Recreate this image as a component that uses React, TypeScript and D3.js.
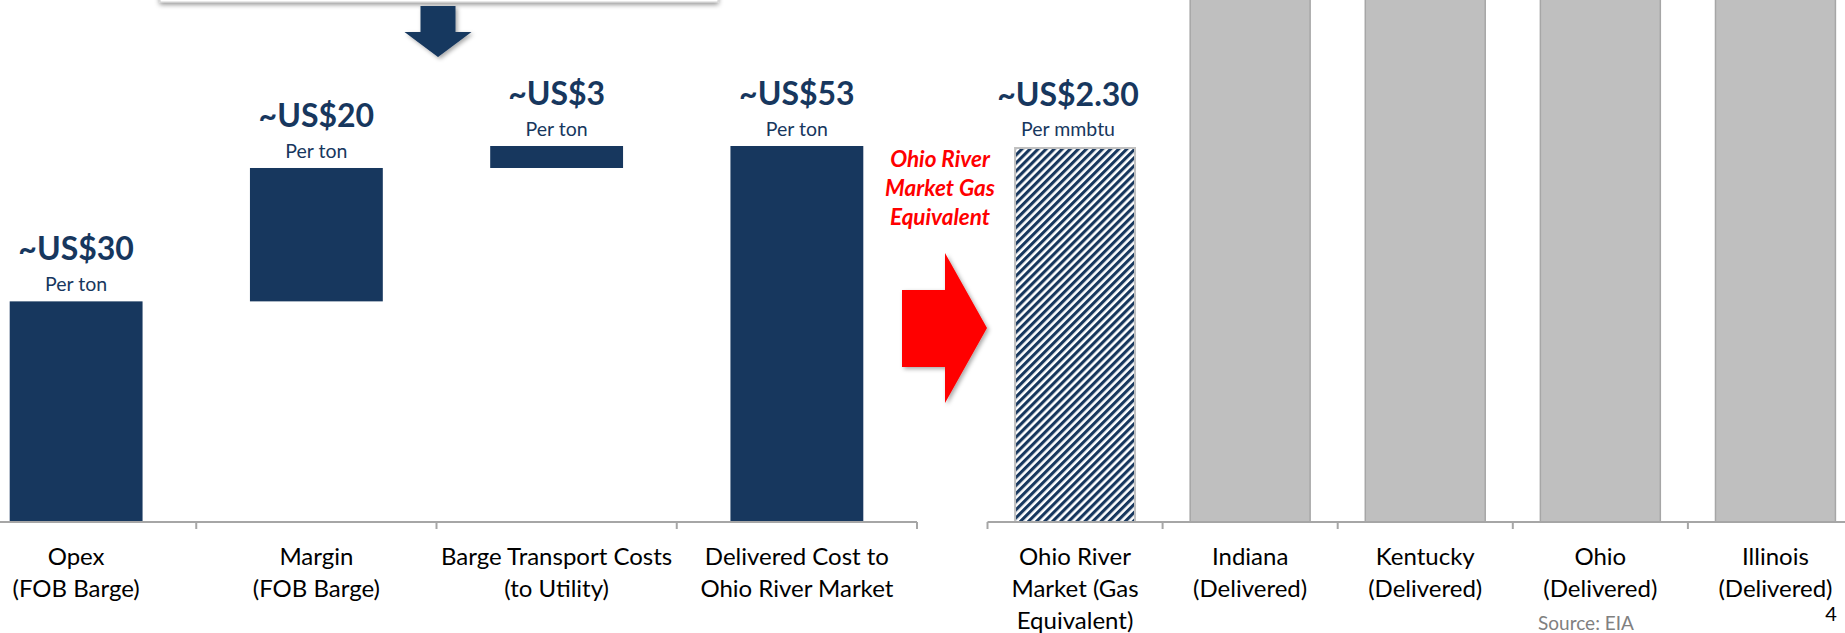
import React from "react";
import * as d3 from "d3";

// ---------- DATA ----------
const leftCategories: string[][] = [
  ["Opex", "(FOB Barge)"],
  ["Margin", "(FOB Barge)"],
  ["Barge Transport Costs", "(to Utility)"],
  ["Delivered Cost to", "Ohio River Market"],
];
const leftValues: number[] = [31.1, 18.8, 3.1, 53];
const leftIsTotal: boolean[] = [false, false, false, true];
const leftValueLabels: string[] = ["~US$30", "~US$20", "~US$3", "~US$53"];
const leftUnit = "Per ton";

const rightCategories: string[][] = [
  ["Ohio River", "Market (Gas", "Equivalent)"],
  ["Indiana", "(Delivered)"],
  ["Kentucky", "(Delivered)"],
  ["Ohio", "(Delivered)"],
  ["Illinois", "(Delivered)"],
];
// gray bars run off the top of the frame; values estimated above visible range
const rightValues: number[] = [2.3, 3.5, 3.5, 3.5, 3.5];
const rightValueLabel = "~US$2.30";
const rightUnit = "Per mmbtu";
const calloutLines: string[] = ["Ohio River", "Market Gas", "Equivalent"];
const sourceText = "Source: EIA";
const pageNumber = "4";

// ---------- STYLE ----------
const W = 1845;
const H = 633;
const NAVY = "#17375E";
const GRAY = "#BFBFBF";
const AXIS = "#A6A6A6";
const FONT = "Lato, 'Open Sans', sans-serif";

export default function App() {
  const baseY = 522;

  // left waterfall
  const xL = d3
    .scaleBand<number>()
    .domain(d3.range(leftCategories.length))
    .range([-44, 917])
    .padding(0);
  const yL = d3.scaleLinear().domain([0, 53]).range([baseY, 146]);
  const barWL = xL.bandwidth() * 0.553;
  let running = 0;
  const leftBars = leftValues.map((v, i) => {
    const start = leftIsTotal[i] ? 0 : running;
    const end = start + v;
    if (!leftIsTotal[i]) running = end;
    return { i, start, end };
  });

  // right chart
  const xR = d3
    .scaleBand<number>()
    .domain(d3.range(rightCategories.length))
    .range([987.5, 987.5 + 175.1 * rightCategories.length])
    .padding(0);
  const yR = d3.scaleLinear().domain([0, 2.3]).range([baseY, 148]);
  const barWR = xR.bandwidth() * 0.685;

  const tickLen = 7;
  const lblLine = 32;
  const lblFirst = baseY + 43;

  // callout arrow geometry (red block arrow)
  const ra = { x0: 902, x1: 945, x2: 987, yb0: 290, yb1: 367, yh0: 253, yh1: 403 };
  const ym = (ra.yh0 + ra.yh1) / 2;
  const redArrow = d3.path();
  redArrow.moveTo(ra.x0, ra.yb0);
  redArrow.lineTo(ra.x1, ra.yb0);
  redArrow.lineTo(ra.x1, ra.yh0);
  redArrow.lineTo(ra.x2, ym);
  redArrow.lineTo(ra.x1, ra.yh1);
  redArrow.lineTo(ra.x1, ra.yb1);
  redArrow.lineTo(ra.x0, ra.yb1);
  redArrow.closePath();

  // navy down arrow
  const da = { cx: 438, sw: 17.5, hw: 33.5, y0: 6, y1: 32, y2: 57 };
  const downArrow = d3.path();
  downArrow.moveTo(da.cx - da.sw, da.y0);
  downArrow.lineTo(da.cx + da.sw, da.y0);
  downArrow.lineTo(da.cx + da.sw, da.y1);
  downArrow.lineTo(da.cx + da.hw, da.y1);
  downArrow.lineTo(da.cx, da.y2);
  downArrow.lineTo(da.cx - da.hw, da.y1);
  downArrow.lineTo(da.cx - da.sw, da.y1);
  downArrow.closePath();

  return (
    <svg
      width={W}
      height={H}
      style={{ position: "fixed", left: 0, top: 0, background: "#fff" }}
      fontFamily={FONT}
    >
      <defs>
        <filter id="shadow" x="-20%" y="-20%" width="150%" height="150%">
          <feDropShadow dx="2" dy="2" stdDeviation="2" floodColor="#000" floodOpacity="0.35" />
        </filter>
        <filter id="boxshadow" x="-5%" y="-50%" width="110%" height="300%">
          <feDropShadow dx="0" dy="2" stdDeviation="2.5" floodColor="#000" floodOpacity="0.45" />
        </filter>
        <pattern
          id="hatch"
          patternUnits="userSpaceOnUse"
          width={5.7}
          height={5.7}
          patternTransform="rotate(45)"
        >
          <rect x={0} y={0} width={5.7} height={5.7} fill="#fff" />
          <rect x={0} y={0} width={3.1} height={5.7} fill={NAVY} />
        </pattern>
      </defs>
      <rect x={0} y={0} width={W} height={H} fill="#fff" />

      {/* top box and navy arrow */}
      <rect x={160} y={-40} width={558} height={42} fill="#fff" stroke="#d0d0d0" strokeWidth={1} filter="url(#boxshadow)" />
      <path d={downArrow.toString()} fill={NAVY} filter="url(#shadow)" />

      {/* left waterfall bars */}
      {leftBars.map((b) => (
        <rect
          key={"lb" + b.i}
          x={(xL(b.i) as number) + (xL.bandwidth() - barWL) / 2}
          y={yL(b.end)}
          width={barWL}
          height={yL(b.start) - yL(b.end)}
          fill={NAVY}
        />
      ))}
      {leftBars.map((b) => {
        const cx = (xL(b.i) as number) + xL.bandwidth() / 2;
        const top = yL(b.end);
        return (
          <g key={"ll" + b.i} fill={NAVY} textAnchor="middle">
            <text x={cx} y={top - 41} fontSize={32} fontWeight={700}>
              {leftValueLabels[b.i]}
            </text>
            <text x={cx} y={top - 10} fontSize={19.5}>
              {leftUnit}
            </text>
          </g>
        );
      })}

      {/* left axis */}
      <line x1={0} x2={xL.range()[1]} y1={baseY} y2={baseY} stroke={AXIS} strokeWidth={2} />
      {leftCategories.map((_, i) => {
        const bx = (xL(i) as number) + xL.bandwidth();
        return <line key={"lt" + i} x1={bx} x2={bx} y1={baseY} y2={baseY + tickLen} stroke={AXIS} strokeWidth={2} />;
      })}
      {leftCategories.map((lines, i) => {
        const cx = (xL(i) as number) + xL.bandwidth() / 2;
        return (
          <text key={"lx" + i} x={cx} y={lblFirst} textAnchor="middle" fontSize={24} fill="#000">
            {lines.map((t, k) => (
              <tspan key={k} x={cx} y={lblFirst + k * lblLine}>
                {t}
              </tspan>
            ))}
          </text>
        );
      })}

      {/* red callout */}
      <path d={redArrow.toString()} fill="#FF0000" filter="url(#shadow)" />
      <g fill="#FF0000" fontWeight={700} fontStyle="italic" fontSize={22.5} textAnchor="middle">
        {calloutLines.map((t, k) => (
          <text key={"co" + k} x={940} y={167 + k * 29}>
            {t}
          </text>
        ))}
      </g>

      {/* right bars */}
      {rightValues.map((v, i) => (
        <rect
          key={"rb" + i}
          x={(xR(i) as number) + (xR.bandwidth() - barWR) / 2}
          y={yR(v)}
          width={barWR}
          height={yR(0) - yR(v)}
          fill={i === 0 ? "url(#hatch)" : GRAY}
          stroke={i === 0 ? "#C0C0C0" : "#A6A6A6"}
          strokeWidth={i === 0 ? 2 : 1.5}
        />
      ))}
      {(() => {
        const cx = (xR(0) as number) + xR.bandwidth() / 2 - 7;
        const top = yR(rightValues[0]);
        return (
          <g fill={NAVY} textAnchor="middle">
            <text x={cx} y={top - 42} fontSize={32} fontWeight={700}>
              {rightValueLabel}
            </text>
            <text x={cx} y={top - 12} fontSize={19.5}>
              {rightUnit}
            </text>
          </g>
        );
      })()}

      {/* right axis */}
      <line x1={xR.range()[0]} x2={W} y1={baseY} y2={baseY} stroke={AXIS} strokeWidth={2} />
      {rightCategories.map((_, i) => {
        const bx = xR(i) as number;
        return <line key={"rt" + i} x1={bx} x2={bx} y1={baseY} y2={baseY + tickLen} stroke={AXIS} strokeWidth={2} />;
      })}
      {rightCategories.map((lines, i) => {
        const cx = (xR(i) as number) + xR.bandwidth() / 2;
        return (
          <text key={"rx" + i} x={cx} y={lblFirst} textAnchor="middle" fontSize={24} fill="#000">
            {lines.map((t, k) => (
              <tspan key={k} x={cx} y={lblFirst + k * lblLine}>
                {t}
              </tspan>
            ))}
          </text>
        );
      })}

      <text x={1586} y={630} textAnchor="middle" fontSize={19} fill="#808080">
        {sourceText}
      </text>
      <text x={1831} y={621} textAnchor="middle" fontSize={20} fill="#000">
        {pageNumber}
      </text>
    </svg>
  );
}
